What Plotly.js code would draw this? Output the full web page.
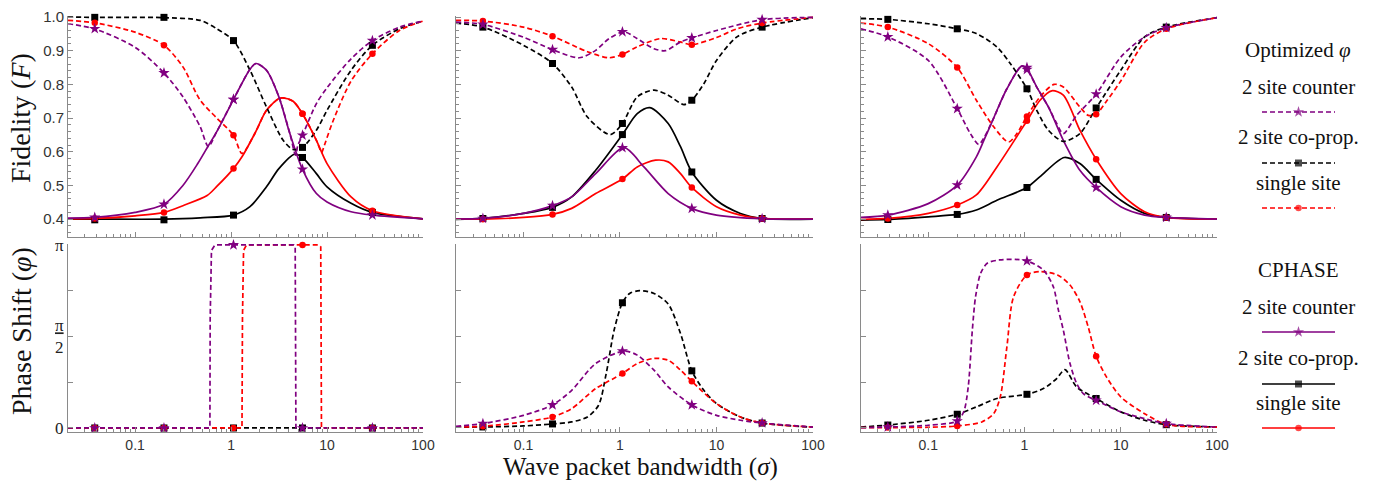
<!DOCTYPE html>
<html>
<head>
<meta charset="utf-8">
<script src="https://cdn.plot.ly/plotly-3.0.1.min.js"></script>
<style>html,body{margin:0;padding:0;background:#fff;}#chart{width:1379px;height:483px;}</style>
</head>
<body>
<div id="chart"></div>
<script>
// ---------- shared ----------
const X_MARK = [0.038, 0.2, 1.06, 5.55, 29.7];
const X_TICKS = [0.1, 1, 10, 100];
const X_TICK_TEXT = ['0.1', '1', '10', '100'];
const F_TICKS = [0.4, 0.5, 0.6, 0.7, 0.8, 0.9, 1.0];
const F_TICK_TEXT = ['0.4', '0.5', '0.6', '0.7', '0.8', '0.9', '1.0'];
const PH_TICKS = [0, 0.25, 0.5, 0.75, 1];           // units of pi
const PH_TICK_TEXT = ['0', '', '<u>π</u><br>2', '', 'π'];
const LEGEND_TOP = ['2 site counter', '2 site co-prop.', 'single site'];
const LEGEND_BOT = ['2 site counter', '2 site co-prop.', 'single site'];

// ---------- panel 1 : fidelity ----------
const P1_OPT_COUNTER_X = [0.02, 0.0375, 0.1, 0.2, 0.315, 0.477, 0.58, 0.71, 1.06, 1.575, 1.82, 2.34, 3.15, 4.1, 4.7, 4.95, 5.55, 7.75, 10, 17.8, 29.7, 56.8, 100];
const P1_OPT_COUNTER_Y = [0.98, 0.965, 0.91, 0.834, 0.763, 0.674, 0.616, 0.66, 0.755, 0.845, 0.862, 0.842, 0.763, 0.654, 0.59, 0.618, 0.649, 0.743, 0.79, 0.876, 0.93, 0.97, 0.988];
const P1_OPT_CO_X = [0.02, 0.0375, 0.1, 0.2, 0.477, 0.71, 1.06, 1.575, 2.34, 3.49, 4.43, 5.55, 7.75, 10, 17.8, 29.7, 56.8, 100];
const P1_OPT_CO_Y = [1.0, 0.999, 0.999, 0.998, 0.99, 0.965, 0.93, 0.842, 0.733, 0.634, 0.607, 0.613, 0.664, 0.723, 0.842, 0.916, 0.965, 0.988];
const P1_OPT_SINGLE_X = [0.02, 0.0375, 0.1, 0.2, 0.315, 0.477, 0.71, 1.06, 1.3, 1.775, 2.34, 3.15, 3.49, 4.43, 5.55, 7.75, 8.8, 9.2, 11.5, 17.8, 29.7, 56.8, 100];
const P1_OPT_SINGLE_Y = [0.99, 0.983, 0.955, 0.916, 0.852, 0.753, 0.70, 0.649, 0.595, 0.655, 0.723, 0.758, 0.76, 0.75, 0.713, 0.634, 0.598, 0.612, 0.69, 0.81, 0.891, 0.96, 0.988];
const P1_CP_COUNTER_X = [0.02, 0.0375, 0.1, 0.2, 0.315, 0.45, 0.58, 0.71, 1.06, 1.575, 1.82, 2.34, 3.15, 4.1, 5.55, 7.75, 10, 17.8, 29.7, 100];
const P1_CP_COUNTER_Y = [0.403, 0.405, 0.42, 0.444, 0.50, 0.565, 0.618, 0.66, 0.755, 0.845, 0.862, 0.842, 0.763, 0.654, 0.548, 0.476, 0.451, 0.422, 0.412, 0.401];
const P1_CP_CO_X = [0.02, 0.0375, 0.2, 0.477, 1.06, 1.575, 2.34, 3.15, 4.61, 5.55, 7.75, 10, 17.8, 29.7, 100];
const P1_CP_CO_Y = [0.4, 0.4, 0.4, 0.404, 0.412, 0.437, 0.496, 0.55, 0.593, 0.583, 0.535, 0.496, 0.447, 0.42, 0.401];
const P1_CP_SINGLE_X = [0.02, 0.0375, 0.1, 0.2, 0.315, 0.563, 0.71, 1.06, 1.3, 1.775, 2.34, 3.15, 3.49, 4.43, 5.55, 7.75, 10, 17.8, 29.7, 100];
const P1_CP_SINGLE_Y = [0.401, 0.402, 0.41, 0.42, 0.44, 0.47, 0.497, 0.55, 0.585, 0.655, 0.723, 0.758, 0.76, 0.75, 0.713, 0.634, 0.565, 0.466, 0.425, 0.401];
const P1_STAR_OPT = [0.965, 0.834, 0.755, 0.649, 0.93];
const P1_STAR_CP = [0.405, 0.444, 0.755, 0.548, 0.412];
const P1_SQ_OPT = [0.999, 0.999, 0.93, 0.613, 0.916];
const P1_SQ_CP = [0.398, 0.398, 0.412, 0.583, 0.42];
const P1_CIRC_OPT = [0.983, 0.916, 0.649, 0.713, 0.891];
const P1_CIRC_CP = [0.402, 0.42, 0.55, 0.713, 0.425];

// ---------- panel 1 : phase (units of pi) ----------
const P1_PH_COUNTER_X = [0.02, 0.602, 0.606, 0.625, 0.68, 4.5, 4.66, 4.71, 4.74, 100];
const P1_PH_COUNTER_Y = [0, 0, 0.6, 0.97, 1.0, 1.0, 0.99, 0.6, 0, 0];
const P1_PH_SINGLE_X = [0.02, 1.30, 1.315, 1.35, 1.45, 8.2, 8.6, 8.7, 8.75, 100];
const P1_PH_SINGLE_Y = [0, 0, 0.6, 0.97, 1.0, 1.0, 0.99, 0.6, 0, 0];
const P1_PH_CO_X = [0.02, 100];
const P1_PH_CO_Y = [0, 0];
const P1_PH_STAR = [0, 0, 1, 0, 0];
const P1_PH_SQ = [0, 0, 0, 0, 0];
const P1_PH_CIRC = [0, 0, 0, 1, 0];

// ---------- panel 2 : fidelity ----------
const P2_OPT_COUNTER_X = [0.02, 0.038, 0.1, 0.2, 0.377, 0.56, 0.77, 1.1, 1.5, 2.25, 2.96, 4.24, 5.55, 10, 29.7, 100];
const P2_OPT_COUNTER_Y = [0.985, 0.978, 0.94, 0.903, 0.879, 0.901, 0.936, 0.956, 0.936, 0.906, 0.9, 0.926, 0.938, 0.96, 0.992, 0.999];
const P2_OPT_CO_X = [0.02, 0.038, 0.1, 0.2, 0.316, 0.46, 0.79, 1.06, 1.51, 2.25, 3.16, 4.59, 5.55, 7.4, 10, 16.3, 29.7, 100];
const P2_OPT_CO_Y = [0.982, 0.97, 0.916, 0.862, 0.792, 0.703, 0.651, 0.684, 0.763, 0.783, 0.768, 0.74, 0.753, 0.802, 0.871, 0.941, 0.97, 0.998];
const P2_OPT_SINGLE_X = [0.02, 0.038, 0.1, 0.2, 0.46, 0.77, 1.06, 1.5, 2.63, 4.2, 5.55, 10, 16.3, 29.7, 100];
const P2_OPT_SINGLE_Y = [0.99, 0.988, 0.97, 0.943, 0.897, 0.879, 0.889, 0.911, 0.936, 0.926, 0.918, 0.939, 0.965, 0.982, 0.999];
const P2_CP_COUNTER_X = [0.02, 0.038, 0.1, 0.2, 0.316, 0.56, 1.1, 1.77, 3.16, 5.55, 10, 29.7, 100];
const P2_CP_COUNTER_Y = [0.4, 0.402, 0.417, 0.44, 0.466, 0.535, 0.612, 0.555, 0.476, 0.432, 0.412, 0.401, 0.4];
const P2_CP_CO_X = [0.02, 0.038, 0.1, 0.2, 0.316, 0.56, 1.06, 1.51, 2.04, 3.16, 4.24, 5.55, 10, 17.7, 29.7, 100];
const P2_CP_CO_Y = [0.399, 0.402, 0.417, 0.435, 0.466, 0.545, 0.651, 0.713, 0.731, 0.684, 0.615, 0.54, 0.456, 0.417, 0.402, 0.4];
const P2_CP_SINGLE_X = [0.02, 0.038, 0.1, 0.2, 0.316, 0.56, 1.06, 1.51, 2.34, 3.16, 4.24, 5.55, 10, 17.7, 29.7, 100];
const P2_CP_SINGLE_Y = [0.4, 0.4, 0.405, 0.414, 0.432, 0.476, 0.519, 0.555, 0.575, 0.57, 0.535, 0.494, 0.437, 0.412, 0.402, 0.4];
const P2_STAR_OPT = [0.978, 0.903, 0.956, 0.938, 0.992];
const P2_STAR_CP = [0.402, 0.44, 0.612, 0.432, 0.401];
const P2_SQ_OPT = [0.97, 0.862, 0.684, 0.753, 0.97];
const P2_SQ_CP = [0.402, 0.435, 0.651, 0.54, 0.402];
const P2_CIRC_OPT = [0.988, 0.943, 0.889, 0.918, 0.982];
const P2_CIRC_CP = [0.4, 0.414, 0.519, 0.494, 0.402];

// ---------- panel 2 : phase (units of pi) ----------
const P2_PH_COUNTER_X = [0.02, 0.038, 0.1, 0.2, 0.316, 0.56, 1.1, 1.51, 2.25, 3.16, 5.55, 10, 17.7, 29.7, 100];
const P2_PH_COUNTER_Y = [0.009, 0.024, 0.069, 0.126, 0.206, 0.352, 0.42, 0.398, 0.316, 0.224, 0.126, 0.069, 0.042, 0.027, 0.005];
const P2_PH_CO_X = [0.02, 0.038, 0.1, 0.2, 0.316, 0.46, 0.6, 0.72, 0.87, 1.06, 1.26, 1.6, 2.25, 3.16, 4.24, 5.55, 7.4, 10, 17.7, 29.7, 100];
const P2_PH_CO_Y = [0.005, 0.0055, 0.011, 0.022, 0.033, 0.06, 0.124, 0.297, 0.535, 0.684, 0.735, 0.75, 0.735, 0.677, 0.516, 0.312, 0.206, 0.133, 0.06, 0.027, 0.004];
const P2_PH_SINGLE_X = [0.02, 0.038, 0.1, 0.2, 0.316, 0.56, 1.06, 1.51, 2.25, 3.16, 4.24, 5.55, 10, 17.7, 29.7, 100];
const P2_PH_SINGLE_Y = [0.005, 0.009, 0.033, 0.06, 0.106, 0.215, 0.297, 0.352, 0.38, 0.37, 0.316, 0.255, 0.133, 0.06, 0.027, 0.005];
const P2_PH_STAR = [0.024, 0.126, 0.42, 0.126, 0.027];
const P2_PH_SQ = [0.0055, 0.022, 0.684, 0.312, 0.027];
const P2_PH_CIRC = [0.009, 0.06, 0.297, 0.255, 0.027];

// ---------- panel 3 : fidelity ----------
const P3_OPT_COUNTER_X = [0.02, 0.038, 0.1, 0.2, 0.274, 0.334, 0.377, 0.478, 0.656, 0.938, 1.06, 1.34, 1.77, 2.16, 2.53, 3.48, 5.55, 10, 17.7, 29.7, 100];
const P3_OPT_COUNTER_Y = [0.965, 0.941, 0.871, 0.728, 0.654, 0.622, 0.64, 0.70, 0.787, 0.855, 0.844, 0.792, 0.733, 0.684, 0.654, 0.708, 0.771, 0.881, 0.941, 0.968, 0.998];
const P3_OPT_CO_X = [0.02, 0.038, 0.1, 0.2, 0.316, 0.517, 0.711, 1.06, 1.34, 1.77, 2.53, 3.76, 5.55, 10, 17.7, 29.7, 100];
const P3_OPT_CO_Y = [0.995, 0.993, 0.98, 0.965, 0.951, 0.911, 0.862, 0.787, 0.723, 0.664, 0.631, 0.654, 0.73, 0.842, 0.941, 0.97, 0.998];
const P3_OPT_SINGLE_X = [0.02, 0.038, 0.1, 0.2, 0.316, 0.478, 0.683, 0.833, 1.06, 1.45, 2.03, 2.53, 3.76, 4.6, 5.55, 7.1, 10, 17.7, 29.7, 100];
const P3_OPT_SINGLE_Y = [0.982, 0.97, 0.921, 0.85, 0.753, 0.674, 0.629, 0.654, 0.705, 0.763, 0.8, 0.792, 0.733, 0.708, 0.711, 0.75, 0.81, 0.925, 0.965, 0.998];
const P3_CP_COUNTER_X = [0.02, 0.038, 0.1, 0.2, 0.316, 0.377, 0.478, 0.517, 0.656, 0.938, 1.06, 1.34, 1.77, 2.53, 3.76, 5.55, 10, 17.7, 29.7, 100];
const P3_CP_COUNTER_Y = [0.405, 0.412, 0.446, 0.501, 0.585, 0.633, 0.70, 0.723, 0.787, 0.855, 0.847, 0.792, 0.733, 0.634, 0.545, 0.494, 0.437, 0.412, 0.405, 0.4];
const P3_CP_CO_X = [0.02, 0.038, 0.1, 0.2, 0.316, 0.517, 1.06, 1.45, 2.59, 3.76, 5.55, 10, 17.7, 29.7, 100];
const P3_CP_CO_Y = [0.397, 0.399, 0.407, 0.414, 0.427, 0.456, 0.494, 0.526, 0.583, 0.565, 0.518, 0.456, 0.417, 0.405, 0.4];
const P3_CP_SINGLE_X = [0.02, 0.038, 0.1, 0.2, 0.316, 0.517, 1.06, 1.45, 1.92, 2.53, 3.76, 5.55, 10, 17.7, 29.7, 100];
const P3_CP_SINGLE_Y = [0.399, 0.402, 0.417, 0.442, 0.472, 0.555, 0.692, 0.753, 0.781, 0.768, 0.664, 0.578, 0.476, 0.422, 0.405, 0.4];
const P3_STAR_OPT = [0.941, 0.728, 0.844, 0.771, 0.968];
const P3_STAR_CP = [0.412, 0.501, 0.85, 0.494, 0.405];
const P3_SQ_OPT = [0.993, 0.965, 0.787, 0.73, 0.97];
const P3_SQ_CP = [0.399, 0.414, 0.494, 0.518, 0.405];
const P3_CIRC_OPT = [0.97, 0.85, 0.705, 0.711, 0.965];
const P3_CIRC_CP = [0.402, 0.442, 0.692, 0.578, 0.405];

// ---------- panel 3 : phase (units of pi) ----------
const P3_PH_COUNTER_X = [0.02, 0.038, 0.1, 0.2, 0.234, 0.26, 0.287, 0.31, 0.35, 0.41, 0.55, 0.8, 1.07, 1.57, 1.99, 2.25, 2.53, 2.97, 3.48, 4.08, 5.55, 10, 17.7, 29.7, 100];
const P3_PH_COUNTER_Y = [0.002, 0.005, 0.015, 0.038, 0.09, 0.224, 0.535, 0.717, 0.845, 0.9, 0.918, 0.921, 0.912, 0.863, 0.772, 0.644, 0.535, 0.352, 0.243, 0.188, 0.151, 0.088, 0.051, 0.024, 0.005];
const P3_PH_CO_X = [0.02, 0.038, 0.1, 0.2, 0.316, 0.517, 1.06, 1.57, 2.16, 2.63, 3.48, 5.55, 10, 17.7, 29.7, 100];
const P3_PH_CO_Y = [0.005, 0.016, 0.042, 0.075, 0.115, 0.161, 0.184, 0.215, 0.27, 0.319, 0.224, 0.161, 0.088, 0.042, 0.018, 0.005];
const P3_PH_SINGLE_X = [0.02, 0.038, 0.1, 0.2, 0.36, 0.478, 0.56, 0.656, 0.77, 1.06, 1.45, 2.2, 2.97, 3.76, 4.6, 5.55, 7.1, 10, 17.7, 29.7, 100];
const P3_PH_SINGLE_Y = [0.002, 0.002, 0.004, 0.011, 0.033, 0.078, 0.17, 0.443, 0.717, 0.836, 0.854, 0.836, 0.781, 0.69, 0.55, 0.392, 0.279, 0.17, 0.078, 0.02, 0.005];
const P3_PH_STAR = [0.005, 0.038, 0.912, 0.151, 0.024];
const P3_PH_SQ = [0.016, 0.075, 0.184, 0.161, 0.018];
const P3_PH_CIRC = [0.002, 0.011, 0.836, 0.392, 0.02];

// ---------- styling ----------
const PURPLE = '#800080', BLACK = '#000000', RED = '#ff0000';
const DASH = '5px,3px';
const SERIF = 'Liberation Serif, DejaVu Serif, serif';
const SANS = 'Liberation Sans, Arial, sans-serif';
const AXC = '#8a8a8a';
const LW = 1.7;

function ln(xa, ya, xs, ys, color, dashed, linear) {
  return {type: 'scatter', mode: 'lines', x: xs, y: ys, xaxis: xa, yaxis: ya,
    line: {color: color, width: LW, dash: dashed ? DASH : 'solid',
           shape: linear ? 'linear' : 'spline', smoothing: 0.8},
    hoverinfo: 'skip', showlegend: false};
}
function mk(xa, ya, ys, color, symbol, size) {
  return {type: 'scatter', mode: 'markers', x: X_MARK, y: ys, xaxis: xa, yaxis: ya,
    marker: {color: color, symbol: symbol, size: size, line: {width: 0}},
    cliponaxis: false, hoverinfo: 'skip', showlegend: false};
}
const SQ = ['square', 7], CI = ['circle', 6.5], ST = ['star', 8.5];

const traces = [];
function panelTop(xa, ya, d) {
  traces.push(ln(xa, ya, d.cpcoX, d.cpcoY, BLACK, false));
  traces.push(ln(xa, ya, d.cpsX, d.cpsY, RED, false));
  traces.push(ln(xa, ya, d.cpcX, d.cpcY, PURPLE, false));
  traces.push(ln(xa, ya, d.ocoX, d.ocoY, BLACK, true));
  traces.push(ln(xa, ya, d.osX, d.osY, RED, true));
  traces.push(ln(xa, ya, d.ocX, d.ocY, PURPLE, true));
  traces.push(mk(xa, ya, d.sqCP, BLACK, SQ[0], SQ[1]));
  traces.push(mk(xa, ya, d.sqO, BLACK, SQ[0], SQ[1]));
  traces.push(mk(xa, ya, d.ciCP, RED, CI[0], CI[1]));
  traces.push(mk(xa, ya, d.ciO, RED, CI[0], CI[1]));
  traces.push(mk(xa, ya, d.stCP, PURPLE, ST[0], ST[1]));
  traces.push(mk(xa, ya, d.stO, PURPLE, ST[0], ST[1]));
}
function panelBot(xa, ya, d, linear) {
  traces.push(ln(xa, ya, d.coX, d.coY, BLACK, true, linear));
  traces.push(ln(xa, ya, d.sX, d.sY, RED, true, linear));
  traces.push(ln(xa, ya, d.cX, d.cY, PURPLE, true, linear));
  traces.push(mk(xa, ya, d.sq, BLACK, SQ[0], SQ[1]));
  traces.push(mk(xa, ya, d.ci, RED, CI[0], CI[1]));
  traces.push(mk(xa, ya, d.st, PURPLE, ST[0], ST[1]));
}

panelTop('x', 'y', {cpcoX: P1_CP_CO_X, cpcoY: P1_CP_CO_Y, cpsX: P1_CP_SINGLE_X, cpsY: P1_CP_SINGLE_Y,
  cpcX: P1_CP_COUNTER_X, cpcY: P1_CP_COUNTER_Y, ocoX: P1_OPT_CO_X, ocoY: P1_OPT_CO_Y,
  osX: P1_OPT_SINGLE_X, osY: P1_OPT_SINGLE_Y, ocX: P1_OPT_COUNTER_X, ocY: P1_OPT_COUNTER_Y,
  sqCP: P1_SQ_CP, sqO: P1_SQ_OPT, ciCP: P1_CIRC_CP, ciO: P1_CIRC_OPT, stCP: P1_STAR_CP, stO: P1_STAR_OPT});
panelTop('x2', 'y2', {cpcoX: P2_CP_CO_X, cpcoY: P2_CP_CO_Y, cpsX: P2_CP_SINGLE_X, cpsY: P2_CP_SINGLE_Y,
  cpcX: P2_CP_COUNTER_X, cpcY: P2_CP_COUNTER_Y, ocoX: P2_OPT_CO_X, ocoY: P2_OPT_CO_Y,
  osX: P2_OPT_SINGLE_X, osY: P2_OPT_SINGLE_Y, ocX: P2_OPT_COUNTER_X, ocY: P2_OPT_COUNTER_Y,
  sqCP: P2_SQ_CP, sqO: P2_SQ_OPT, ciCP: P2_CIRC_CP, ciO: P2_CIRC_OPT, stCP: P2_STAR_CP, stO: P2_STAR_OPT});
panelTop('x3', 'y3', {cpcoX: P3_CP_CO_X, cpcoY: P3_CP_CO_Y, cpsX: P3_CP_SINGLE_X, cpsY: P3_CP_SINGLE_Y,
  cpcX: P3_CP_COUNTER_X, cpcY: P3_CP_COUNTER_Y, ocoX: P3_OPT_CO_X, ocoY: P3_OPT_CO_Y,
  osX: P3_OPT_SINGLE_X, osY: P3_OPT_SINGLE_Y, ocX: P3_OPT_COUNTER_X, ocY: P3_OPT_COUNTER_Y,
  sqCP: P3_SQ_CP, sqO: P3_SQ_OPT, ciCP: P3_CIRC_CP, ciO: P3_CIRC_OPT, stCP: P3_STAR_CP, stO: P3_STAR_OPT});
panelBot('x4', 'y4', {coX: P1_PH_CO_X, coY: P1_PH_CO_Y, sX: P1_PH_SINGLE_X, sY: P1_PH_SINGLE_Y,
  cX: P1_PH_COUNTER_X, cY: P1_PH_COUNTER_Y, sq: P1_PH_SQ, ci: P1_PH_CIRC, st: P1_PH_STAR}, true);
panelBot('x5', 'y5', {coX: P2_PH_CO_X, coY: P2_PH_CO_Y, sX: P2_PH_SINGLE_X, sY: P2_PH_SINGLE_Y,
  cX: P2_PH_COUNTER_X, cY: P2_PH_COUNTER_Y, sq: P2_PH_SQ, ci: P2_PH_CIRC, st: P2_PH_STAR}, false);
panelBot('x6', 'y6', {coX: P3_PH_CO_X, coY: P3_PH_CO_Y, sX: P3_PH_SINGLE_X, sY: P3_PH_SINGLE_Y,
  cX: P3_PH_COUNTER_X, cY: P3_PH_COUNTER_Y, sq: P3_PH_SQ, ci: P3_PH_CIRC, st: P3_PH_STAR}, false);

// ---------- legend samples (hidden axis in pixel-row units) ----------
const LEG_ROWS_Y = [112, 163, 208, 332, 384, 428];
const LEG_STYLE = [[PURPLE, ST, true], [BLACK, SQ, true], [RED, CI, true],
                   [PURPLE, ST, false], [BLACK, SQ, false], [RED, CI, false]];
LEG_ROWS_Y.forEach(function (ry, i) {
  const s = LEG_STYLE[i];
  traces.push({type: 'scatter', mode: 'lines+markers', x: [0, 1, 2], y: [ry, ry, ry],
    xaxis: 'x7', yaxis: 'y7',
    line: {color: s[0], width: LW, dash: s[2] ? DASH : 'solid'},
    marker: {color: s[0], symbol: s[1][0], size: [0, s[1][1], 0], line: {width: 0}},
    cliponaxis: false, hoverinfo: 'skip', showlegend: false});
});

// ---------- axes ----------
const W = 1379, H = 483;
const COLS = [[68, 423], [456, 813], [861, 1217]];
const TOP = [16, 237], BOT = [244, 432];
const dom = (a, b) => [a / W, b / W];
const vdom = (t, b) => [1 - b / H, 1 - t / H];

const MINOR_X = [];
[0.01, 0.1, 1, 10].forEach(function (d) { for (let k = 2; k <= 9; k++) { if (d * k >= 0.02) MINOR_X.push(+(d * k).toFixed(3)); } });
const MINOR_F = [];
for (let v = 0.36; v < 1.0; v += 0.02) { if (Math.abs(v * 10 - Math.round(v * 10)) > 1e-6) MINOR_F.push(+v.toFixed(2)); }

function xax(col, row) {
  return {type: 'log', domain: dom(COLS[col][0], COLS[col][1]), range: [Math.log10(0.02), 2],
    anchor: row === 0 ? ['y', 'y2', 'y3'][col] : ['y4', 'y5', 'y6'][col],
    showline: true, linecolor: AXC, linewidth: 1, mirror: false, showgrid: false, zeroline: false,
    ticks: 'inside', ticklen: 5, tickwidth: 1, tickcolor: AXC,
    tickmode: 'array', tickvals: X_TICKS, ticktext: X_TICK_TEXT,
    minor: {tickmode: 'array', tickvals: MINOR_X, ticks: 'inside', ticklen: 3, tickcolor: AXC, tickwidth: 1, showgrid: false},
    showticklabels: row === 1, tickfont: {family: SANS, size: 14, color: '#333'}, fixedrange: true};
}
function yaxTop(col) {
  return {domain: vdom(TOP[0], TOP[1]), range: [0.347, 1.003], anchor: ['x', 'x2', 'x3'][col],
    showline: true, linecolor: AXC, linewidth: 1, showgrid: false, zeroline: false,
    ticks: 'inside', ticklen: 5, tickwidth: 1, tickcolor: AXC,
    tickmode: 'array', tickvals: F_TICKS, ticktext: F_TICK_TEXT,
    minor: {tickmode: 'array', tickvals: MINOR_F, ticks: 'inside', ticklen: 3, tickcolor: AXC, tickwidth: 1, showgrid: false},
    showticklabels: col === 0, tickfont: {family: SANS, size: 15, color: '#333'}, fixedrange: true};
}
function yaxBot(col) {
  return {domain: vdom(BOT[0], BOT[1]), range: [-0.022, 1.005], anchor: ['x4', 'x5', 'x6'][col],
    showline: true, linecolor: AXC, linewidth: 1, showgrid: false, zeroline: false,
    ticks: 'inside', ticklen: 5, tickwidth: 1, tickcolor: AXC,
    tickmode: 'array', tickvals: PH_TICKS, ticktext: PH_TICK_TEXT,
    showticklabels: col === 0, tickfont: {family: SERIF, size: 17, color: '#222'}, fixedrange: true};
}

const layout = {
  width: W, height: H, margin: {l: 0, r: 0, t: 0, b: 0}, paper_bgcolor: '#fff', plot_bgcolor: '#fff',
  showlegend: false,
  xaxis: xax(0, 0), xaxis2: xax(1, 0), xaxis3: xax(2, 0),
  xaxis4: xax(0, 1), xaxis5: xax(1, 1), xaxis6: xax(2, 1),
  yaxis: yaxTop(0), yaxis2: yaxTop(1), yaxis3: yaxTop(2),
  yaxis4: yaxBot(0), yaxis5: yaxBot(1), yaxis6: yaxBot(2),
  xaxis7: {domain: dom(1262, 1335), range: [0, 2], visible: false, anchor: 'y7', fixedrange: true},
  yaxis7: {domain: [0, 1], range: [H, 0], visible: false, anchor: 'x7', fixedrange: true},
  annotations: []
};
const A = layout.annotations;
function txt(text, px, py, size, angle) {
  A.push({text: text, x: px / W, y: 1 - py / H, xref: 'paper', yref: 'paper', showarrow: false,
    xanchor: 'center', yanchor: 'middle', textangle: angle || 0, borderpad: 0,
    font: {family: SERIF, size: size, color: '#111'}});
}
txt('Fidelity (<i>F</i>)', 21, 118, 28, -90);
txt('Phase Shift (<i>φ</i>)', 21, 331, 28, -90);
txt('Wave packet bandwidth (<i>σ</i>)', 640, 467, 25, 0);
txt('Optimized <i>φ</i>', 1298, 50, 21);
txt(LEGEND_TOP[0], 1298, 87, 21);
txt(LEGEND_TOP[1], 1298, 137, 21);
txt(LEGEND_TOP[2], 1298, 183, 21);
txt('CPHASE', 1298, 270, 21);
txt(LEGEND_BOT[0], 1298, 307, 21);
txt(LEGEND_BOT[1], 1298, 358, 21);
txt(LEGEND_BOT[2], 1298, 403, 21);

Plotly.newPlot('chart', traces, layout, {displayModeBar: false, staticPlot: true});
</script>
</body>
</html>
